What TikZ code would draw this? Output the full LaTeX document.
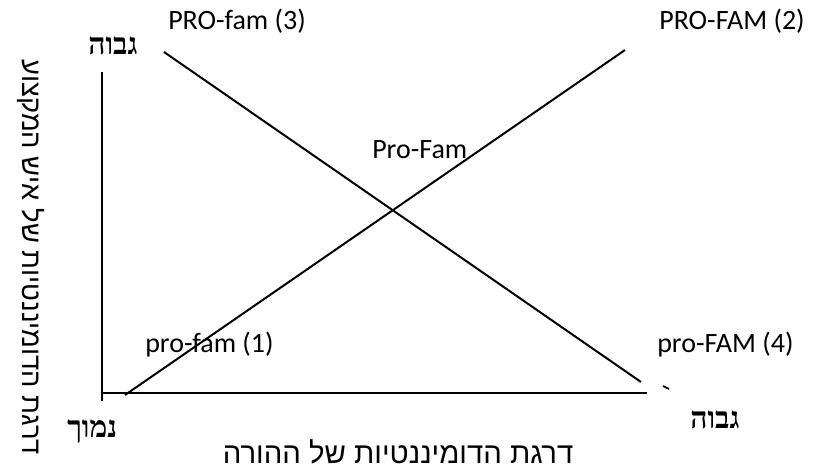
\documentclass[tikz,border=0pt]{standalone}
\usepackage{fontspec}
\setmainfont{Carlito}
\newfontfamily\hebfont[Script=Hebrew]{Liberation Sans}
\newfontfamily\hebserif[Script=Hebrew]{Liberation Serif}
\TeXXeTstate=1
\begin{document}
\begin{tikzpicture}[x=0.75pt,y=-0.75pt,
  lab/.style={inner sep=0pt,font=\fontsize{21}{25}\selectfont},
  heb/.style={inner sep=0pt,font=\hebserif\bfseries\fontsize{22.5}{26}\selectfont},
  axlab/.style={inner sep=0pt,font=\hebfont\fontsize{22}{26}\selectfont},
  aylab/.style={inner sep=0pt,font=\hebfont\fontsize{20.5}{24}\selectfont},
  ln/.style={line width=1.5pt}]
\useasboundingbox (0,0) rectangle (814,470);
% axes
\coordinate (ytop) at (102,72);
\coordinate (ybot) at (102,401);
\coordinate (xl) at (101,393);
\coordinate (xr) at (647,393);
\draw[ln] (ytop) -- (ybot);
\draw[ln] (xl) -- (xr);
\coordinate (tipa) at (663,386);
\coordinate (tipb) at (669,389);
\draw[line width=1.3pt] (tipa) -- (tipb);
% lines
\coordinate (a1) at (125,395);
\coordinate (a2) at (625,50);
\coordinate (b1) at (164,52);
\coordinate (b2) at (641,382);
\draw[ln] (a1) -- (a2);
\draw[ln] (b1) -- (b2);
% labels
\node[lab,anchor=base west] (l3) at (168,30) {PRO-fam (3)};
\node[lab,anchor=base west] (l2) at (659,30) {PRO-FAM (2)};
\node[lab,anchor=base west] (lc) at (372,159) {Pro-Fam};
\node[lab,anchor=base west] (l1) at (145,353) {pro-fam (1)};
\node[lab,anchor=base west] (l4) at (657,353) {pro-FAM (4)};
\node[heb,anchor=base west] (hy) at (88,55) {\beginR גבוה\endR};
\node[heb,anchor=base west] (hx) at (690,428) {\beginR גבוה\endR};
\node[heb,anchor=base west] (lo) at (67,437) {\beginR נמוך\endR};
\node[axlab,anchor=base] (xlab) at (398,463) {\beginR דרגת הדומיננטיות של ההורה\endR};
\node[aylab,anchor=base,rotate=-90] (ylab) at (22,257) {\beginR דרגת הדומיננטיות של איש המקצוע\endR};
\end{tikzpicture}
\end{document}
